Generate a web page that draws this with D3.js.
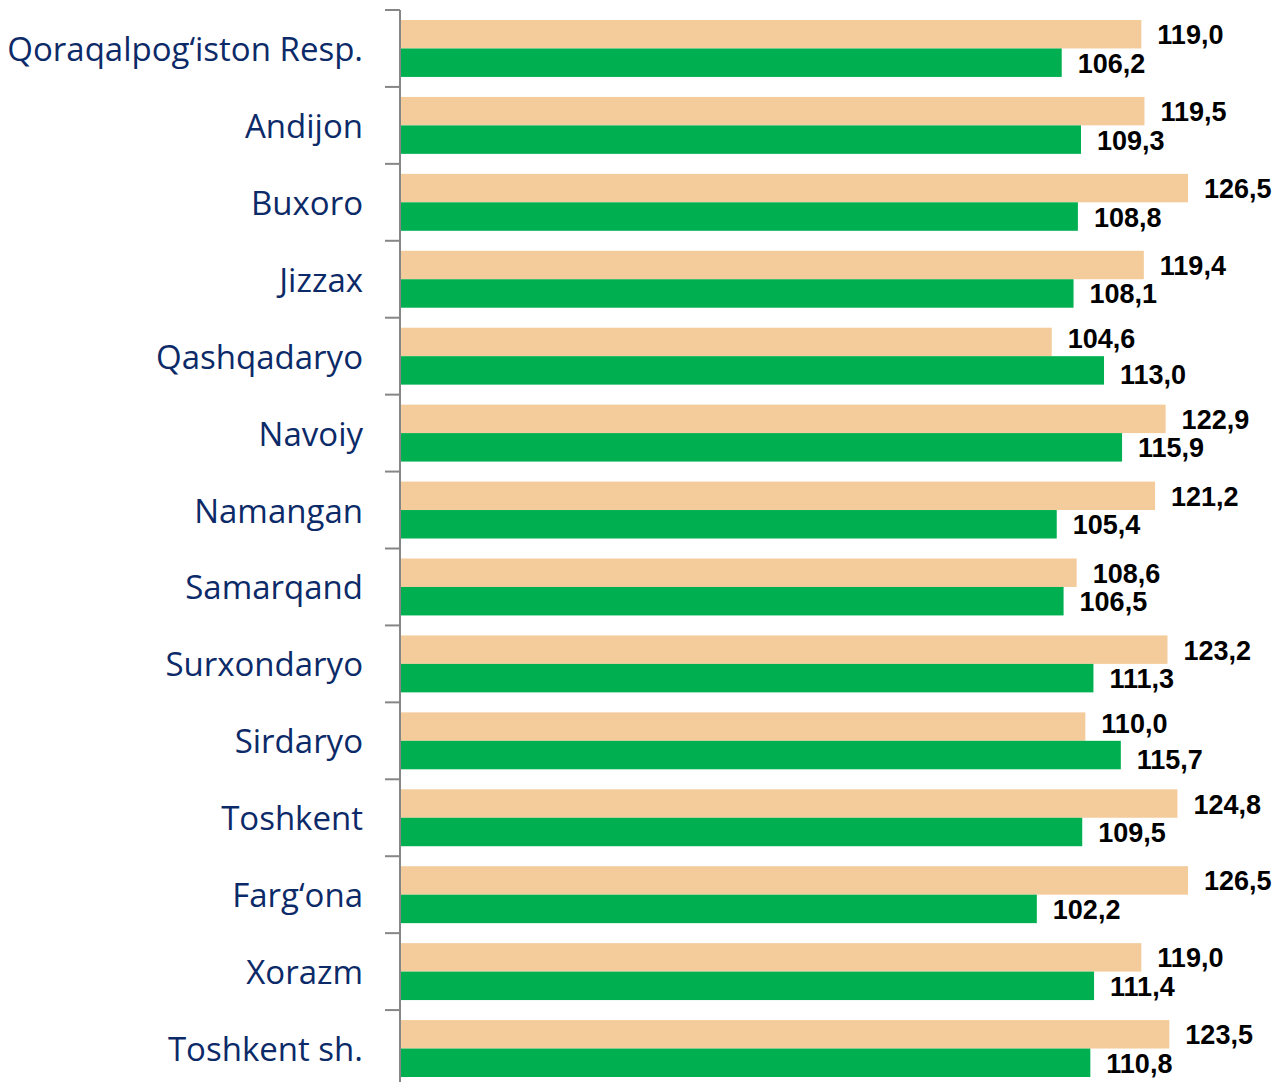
<!DOCTYPE html>
<html>
<head>
<meta charset="utf-8">
<script src="https://cdn.jsdelivr.net/npm/d3@7"></script>
<style>
  body { margin: 0; background: #fff; }
  svg { display: block; }
</style>
</head>
<body>
<div id="chart"></div>
<script>
const regions = [
  "Qoraqalpog‘iston Resp.", "Andijon", "Buxoro", "Jizzax", "Qashqadaryo", "Navoiy",
  "Namangan", "Samarqand", "Surxondaryo", "Sirdaryo", "Toshkent", "Farg‘ona",
  "Xorazm", "Toshkent sh."
];
const valuesA = [119.0, 119.5, 126.5, 119.4, 104.6, 122.9, 121.2, 108.6, 123.2, 110.0, 124.8, 126.5, 119.0, 123.5];
const valuesB = [106.2, 109.3, 108.8, 108.1, 113.0, 115.9, 105.4, 106.5, 111.3, 115.7, 109.5, 102.2, 111.4, 110.8];

const width = 1284, height = 1082;

const svg = d3.select('#chart')
  .append('svg')
  .attr('width', width)
  .attr('height', height);

const y = d3.scaleBand()
  .domain(regions)
  .range([10, 1087])
  .paddingInner(0.26)
  .paddingOuter(0.13);

const x = d3.scaleLinear()
  .domain([0, 140])
  .range([401, 1272]);

const fmt = v => d3.format('.1f')(v).replace('.', ',');
const half = y.bandwidth() / 2;

const rows = regions.map((r, i) => ({ r: r, a: valuesA[i], b: valuesB[i] }));

const g = svg.append('g');

g.selectAll('rect.a')
  .data(rows)
  .enter()
  .append('rect')
  .attr('class', 'a')
  .attr('x', x(0))
  .attr('y', d => y(d.r))
  .attr('width', d => x(d.a) - x(0))
  .attr('height', half)
  .attr('fill', '#f4cc9c');

g.selectAll('rect.b')
  .data(rows)
  .enter()
  .append('rect')
  .attr('class', 'b')
  .attr('x', x(0))
  .attr('y', d => y(d.r) + half)
  .attr('width', d => x(d.b) - x(0))
  .attr('height', half)
  .attr('fill', '#00b050');

// value labels, pushed apart a little when the lower bar is longer
const labelStyle = sel => sel
  .attr('font-family', '"Liberation Sans", Arial, sans-serif')
  .attr('font-weight', 'bold')
  .attr('font-size', 27)
  .attr('fill', '#000')
  .attr('dominant-baseline', 'central');

g.selectAll('text.la')
  .data(rows)
  .enter()
  .append('text')
  .attr('class', 'la')
  .attr('x', d => x(d.a) + 16)
  .attr('y', d => y(d.r) + half / 2 + (d.b > d.a ? -3 : 1))
  .text(d => fmt(d.a))
  .call(labelStyle);

g.selectAll('text.lb')
  .data(rows)
  .enter()
  .append('text')
  .attr('class', 'lb')
  .attr('x', d => x(d.b) + 16)
  .attr('y', d => y(d.r) + half * 1.5 + (d.b > d.a ? 5 : 1))
  .text(d => fmt(d.b))
  .call(labelStyle);

// category axis
const step = y.step();
const bounds = d3.range(regions.length + 1).map(i => 10 + i * step);

const axis = svg.append('g');
axis.append('line')
  .attr('x1', 400).attr('x2', 400)
  .attr('y1', 10).attr('y2', height)
  .attr('stroke', '#868686')
  .attr('stroke-width', 2);

axis.selectAll('line.tick')
  .data(bounds)
  .enter()
  .append('line')
  .attr('class', 'tick')
  .attr('x1', 385).attr('x2', 400)
  .attr('y1', d => d).attr('y2', d => d)
  .attr('stroke', '#868686')
  .attr('stroke-width', 2);

axis.selectAll('text.cat')
  .data(regions)
  .enter()
  .append('text')
  .attr('class', 'cat')
  .attr('x', 363)
  .attr('y', d => y(d) + half)
  .attr('text-anchor', 'end')
  .attr('dominant-baseline', 'central')
  .attr('font-family', '"Open Sans", "Noto Sans", sans-serif')
  .attr('font-size', 33)
  .attr('fill', '#0c2a68')
  .text(d => d);
</script>
</body>
</html>
